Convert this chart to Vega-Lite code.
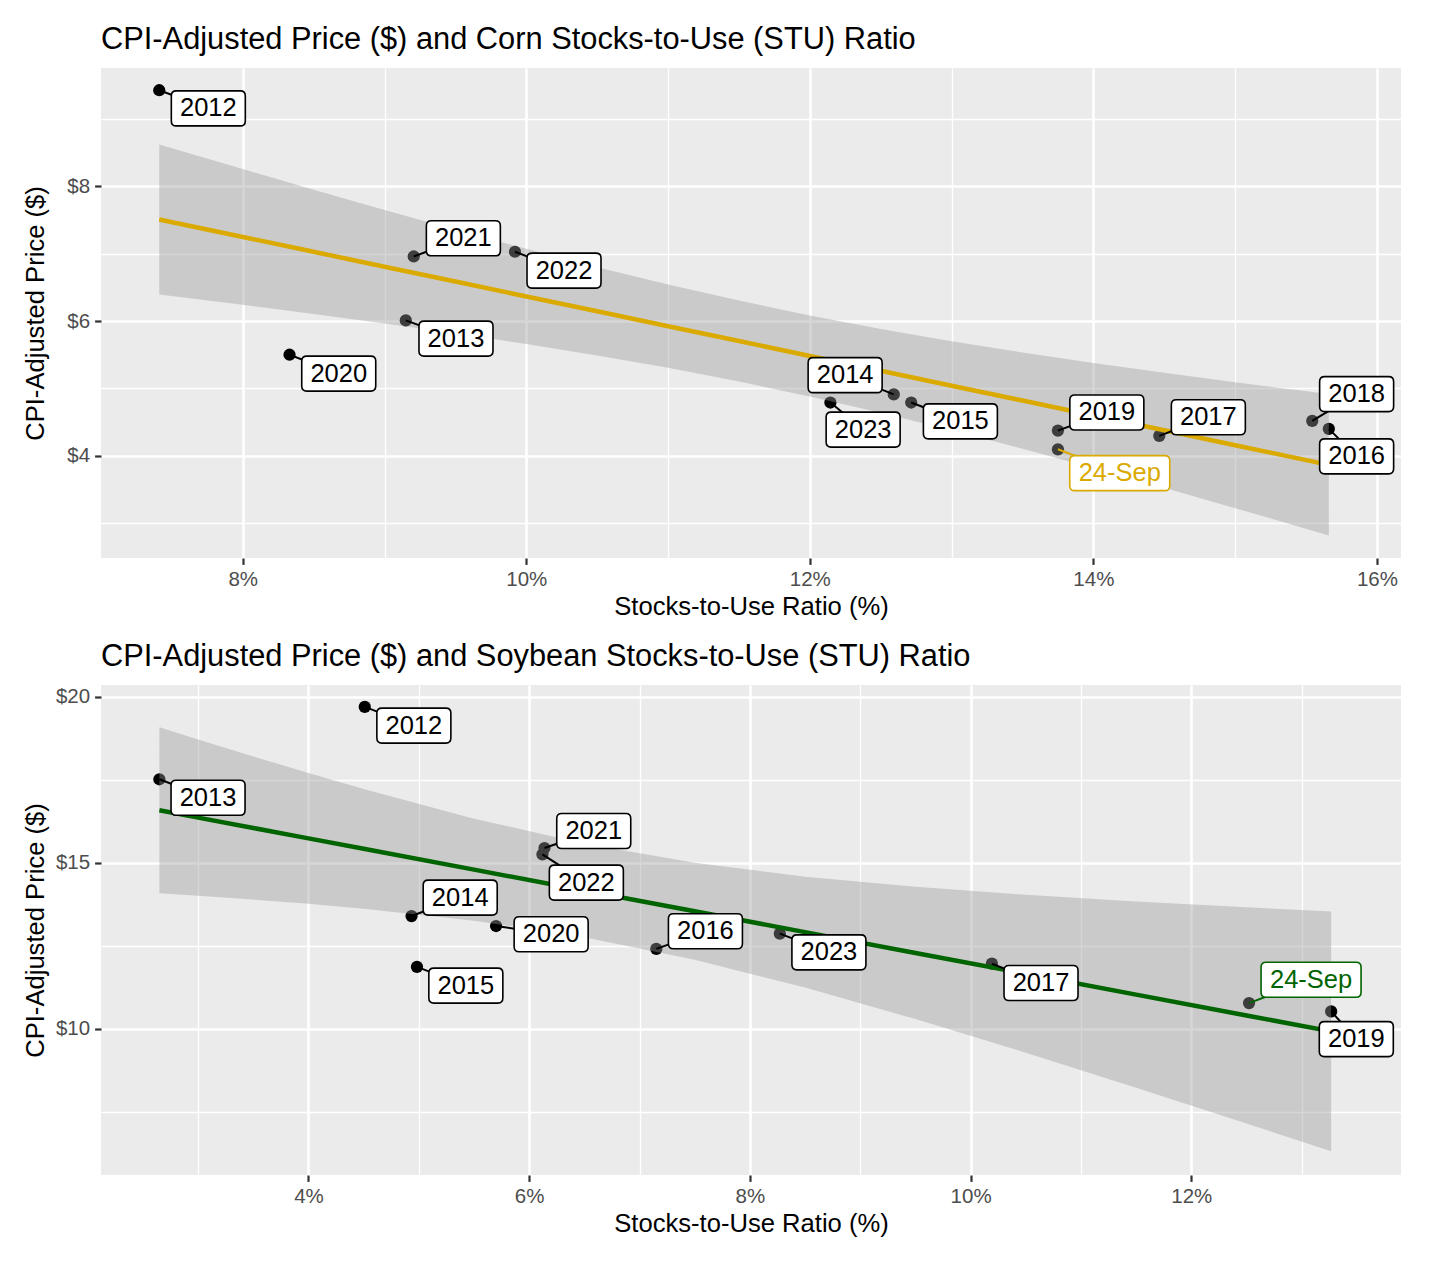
{
  "$schema": "https://vega.github.io/schema/vega-lite/v6.json",
  "background": "white",
  "padding": {"left": 23, "top": 24, "right": 10, "bottom": 10},
  "spacing": 20,
  "datasets": {
    "corn_pts": [
      {"label": "2012", "kind": "year", "x": 7.411, "y": 9.43, "lx": 7.757, "ly": 9.16},
      {"label": "2013", "kind": "year", "x": 9.15, "y": 6.01, "lx": 9.504, "ly": 5.74},
      {"label": "2014", "kind": "year", "x": 12.592, "y": 4.91, "lx": 12.249, "ly": 5.197},
      {"label": "2015", "kind": "year", "x": 12.715, "y": 4.79, "lx": 13.062, "ly": 4.51},
      {"label": "2016", "kind": "year", "x": 15.661, "y": 4.398, "lx": 15.857, "ly": 3.99},
      {"label": "2017", "kind": "year", "x": 14.465, "y": 4.294, "lx": 14.811, "ly": 4.572},
      {"label": "2018", "kind": "year", "x": 15.544, "y": 4.517, "lx": 15.857, "ly": 4.915},
      {"label": "2019", "kind": "year", "x": 13.75, "y": 4.373, "lx": 14.095, "ly": 4.642},
      {"label": "2020", "kind": "year", "x": 8.33, "y": 5.5, "lx": 8.677, "ly": 5.22},
      {"label": "2021", "kind": "year", "x": 9.206, "y": 6.96, "lx": 9.556, "ly": 7.23},
      {"label": "2022", "kind": "year", "x": 9.92, "y": 7.03, "lx": 10.266, "ly": 6.75},
      {"label": "2023", "kind": "year", "x": 12.145, "y": 4.79, "lx": 12.376, "ly": 4.388},
      {"label": "24-Sep", "kind": "corn", "x": 13.75, "y": 4.095, "lx": 14.186, "ly": 3.741}
    ],
    "corn_fit": [
      {"p": 7.411, "lo": 6.395, "fit": 7.51, "hi": 8.625},
      {"p": 8.0, "lo": 6.241, "fit": 7.25, "hi": 8.259},
      {"p": 8.5, "lo": 6.107, "fit": 7.029, "hi": 7.951},
      {"p": 9.0, "lo": 5.964, "fit": 6.808, "hi": 7.652},
      {"p": 9.5, "lo": 5.818, "fit": 6.587, "hi": 7.357},
      {"p": 10.0, "lo": 5.659, "fit": 6.366, "hi": 7.073},
      {"p": 10.5, "lo": 5.49, "fit": 6.145, "hi": 6.8},
      {"p": 11.0, "lo": 5.305, "fit": 5.924, "hi": 6.543},
      {"p": 11.5, "lo": 5.102, "fit": 5.703, "hi": 6.304},
      {"p": 12.0, "lo": 4.88, "fit": 5.482, "hi": 6.084},
      {"p": 12.5, "lo": 4.638, "fit": 5.261, "hi": 5.884},
      {"p": 13.0, "lo": 4.378, "fit": 5.04, "hi": 5.702},
      {"p": 13.5, "lo": 4.104, "fit": 4.819, "hi": 5.534},
      {"p": 14.0, "lo": 3.818, "fit": 4.598, "hi": 5.378},
      {"p": 14.5, "lo": 3.523, "fit": 4.377, "hi": 5.231},
      {"p": 15.0, "lo": 3.221, "fit": 4.156, "hi": 5.091},
      {"p": 15.661, "lo": 2.816, "fit": 3.864, "hi": 4.916}
    ],
    "soy_pts": [
      {"label": "2012", "kind": "year", "x": 4.51, "y": 19.7, "lx": 4.955, "ly": 19.137},
      {"label": "2013", "kind": "year", "x": 2.649, "y": 17.52, "lx": 3.09, "ly": 16.963},
      {"label": "2014", "kind": "year", "x": 4.934, "y": 13.4, "lx": 5.375, "ly": 13.956},
      {"label": "2015", "kind": "year", "x": 4.983, "y": 11.87, "lx": 5.426, "ly": 11.305},
      {"label": "2016", "kind": "year", "x": 7.152, "y": 12.41, "lx": 7.597, "ly": 12.942},
      {"label": "2017", "kind": "year", "x": 10.193, "y": 11.965, "lx": 10.638, "ly": 11.382},
      {"label": "2019", "kind": "year", "x": 13.267, "y": 10.528, "lx": 13.495, "ly": 9.693},
      {"label": "2020", "kind": "year", "x": 5.7, "y": 13.1, "lx": 6.199, "ly": 12.851},
      {"label": "2021", "kind": "year", "x": 6.139, "y": 15.45, "lx": 6.585, "ly": 15.964},
      {"label": "2022", "kind": "year", "x": 6.12, "y": 15.26, "lx": 6.518, "ly": 14.408},
      {"label": "2023", "kind": "year", "x": 8.271, "y": 12.87, "lx": 8.716, "ly": 12.307},
      {"label": "24-Sep", "kind": "soy", "x": 12.523, "y": 10.779, "lx": 13.085, "ly": 11.482}
    ],
    "soy_fit": [
      {"p": 2.649, "lo": 14.086, "fit": 16.586, "hi": 19.086},
      {"p": 3.0, "lo": 14.011, "fit": 16.366, "hi": 18.721},
      {"p": 3.5, "lo": 13.896, "fit": 16.052, "hi": 18.208},
      {"p": 4.0, "lo": 13.768, "fit": 15.739, "hi": 17.71},
      {"p": 4.5, "lo": 13.623, "fit": 15.425, "hi": 17.227},
      {"p": 5.5, "lo": 13.262, "fit": 14.798, "hi": 16.334},
      {"p": 6.5, "lo": 12.761, "fit": 14.171, "hi": 15.581},
      {"p": 7.5, "lo": 12.083, "fit": 13.543, "hi": 15.003},
      {"p": 8.5, "lo": 11.245, "fit": 12.916, "hi": 14.587},
      {"p": 9.5, "lo": 10.297, "fit": 12.289, "hi": 14.281},
      {"p": 10.5, "lo": 9.283, "fit": 11.662, "hi": 14.041},
      {"p": 11.5, "lo": 8.229, "fit": 11.034, "hi": 13.839},
      {"p": 12.5, "lo": 7.152, "fit": 10.407, "hi": 13.662},
      {"p": 13.267, "lo": 6.316, "fit": 9.926, "hi": 13.536}
    ]
  },
  "vconcat": [
    {
      "width": 1300,
      "height": 490,
      "title": {"text": "CPI-Adjusted Price ($) and Corn Stocks-to-Use (STU) Ratio"},
      "layer": [
        {
          "data": {"name": "corn_pts"},
          "mark": {"type": "circle", "size": 150, "color": "black", "opacity": 1},
          "encoding": {
            "x": {
              "field": "x", "type": "quantitative", "title": "Stocks-to-Use Ratio (%)",
              "scale": {"domain": [7.0, 16.17], "nice": false, "zero": false},
              "axis": {
                "values": [8, 9, 10, 11, 12, 13, 14, 15, 16],
                "labelExpr": "datum.value % 2 === 0 ? datum.value + '%' : ''",
                "gridWidth": {"condition": {"test": "datum.value % 2 === 0", "value": 2.6}, "value": 1.3},
                "tickOpacity": {"condition": {"test": "datum.value % 2 === 0", "value": 1}, "value": 0},
                "titlePadding": 5
              }
            },
            "y": {
              "field": "y", "type": "quantitative", "title": "CPI-Adjusted Price ($)",
              "scale": {"domain": [2.48, 9.76], "nice": false, "zero": false},
              "axis": {
                "values": [3, 4, 5, 6, 7, 8, 9],
                "labelExpr": "datum.value % 2 === 0 ? '$' + datum.value : ''",
                "gridWidth": {"condition": {"test": "datum.value % 2 === 0", "value": 2.6}, "value": 1.3},
                "tickOpacity": {"condition": {"test": "datum.value % 2 === 0", "value": 1}, "value": 0},
                "minExtent": 46, "maxExtent": 46, "titlePadding": 7
              }
            }
          }
        },
        {
          "data": {"name": "corn_fit"},
          "mark": {"type": "area", "color": "#999999", "opacity": 0.4},
          "encoding": {
            "x": {"field": "p", "type": "quantitative", "title": "Stocks-to-Use Ratio (%)", "scale": {"domain": [7.0, 16.17], "nice": false, "zero": false}},
            "y": {"field": "lo", "type": "quantitative", "title": "CPI-Adjusted Price ($)", "scale": {"domain": [2.48, 9.76], "nice": false, "zero": false}},
            "y2": {"field": "hi"}
          }
        },
        {
          "data": {"name": "corn_fit"},
          "mark": {"type": "line", "color": "#DAAA00", "strokeWidth": 4.5},
          "encoding": {
            "x": {"field": "p", "type": "quantitative", "title": "Stocks-to-Use Ratio (%)", "scale": {"domain": [7.0, 16.17], "nice": false, "zero": false}},
            "y": {"field": "fit", "type": "quantitative", "title": "CPI-Adjusted Price ($)", "scale": {"domain": [2.48, 9.76], "nice": false, "zero": false}}
          }
        },
        {
          "data": {"name": "corn_pts"},
          "mark": {"type": "rule", "strokeWidth": 2},
          "encoding": {
            "x": {"field": "x", "type": "quantitative", "title": "Stocks-to-Use Ratio (%)", "scale": {"domain": [7.0, 16.17], "nice": false, "zero": false}},
            "y": {"field": "y", "type": "quantitative", "title": "CPI-Adjusted Price ($)", "scale": {"domain": [2.48, 9.76], "nice": false, "zero": false}},
            "x2": {"field": "lx"},
            "y2": {"field": "ly"},
            "color": {"field": "kind", "type": "nominal", "legend": null, "scale": {"domain": ["year", "corn", "soy"], "range": ["black", "#DAAA00", "#006400"]}}
          }
        },
        {
          "data": {"name": "corn_pts"},
          "mark": {"type": "point", "filled": true, "fill": "white", "opacity": 1, "size": 10000, "strokeWidth": 1.6},
          "encoding": {
            "x": {"field": "lx", "type": "quantitative", "title": "Stocks-to-Use Ratio (%)", "scale": {"domain": [7.0, 16.17], "nice": false, "zero": false}},
            "y": {"field": "ly", "type": "quantitative", "title": "CPI-Adjusted Price ($)", "scale": {"domain": [2.48, 9.76], "nice": false, "zero": false}},
            "shape": {
              "field": "kind", "type": "nominal", "legend": null,
              "scale": {
                "domain": ["year", "corn", "soy"],
                "range": [
                  "M-0.64,-0.35L0.64,-0.35Q0.74,-0.35 0.74,-0.25L0.74,0.25Q0.74,0.35 0.64,0.35L-0.64,0.35Q-0.74,0.35 -0.74,0.25L-0.74,-0.25Q-0.74,-0.35 -0.64,-0.35Z",
                  "M-0.9,-0.35L0.9,-0.35Q1,-0.35 1,-0.25L1,0.25Q1,0.35 0.9,0.35L-0.9,0.35Q-1,0.35 -1,0.25L-1,-0.25Q-1,-0.35 -0.9,-0.35Z",
                  "M-0.9,-0.35L0.9,-0.35Q1,-0.35 1,-0.25L1,0.25Q1,0.35 0.9,0.35L-0.9,0.35Q-1,0.35 -1,0.25L-1,-0.25Q-1,-0.35 -0.9,-0.35Z"
                ]
              }
            },
            "stroke": {"field": "kind", "type": "nominal", "legend": null, "scale": {"domain": ["year", "corn", "soy"], "range": ["black", "#DAAA00", "#006400"]}}
          }
        },
        {
          "data": {"name": "corn_pts"},
          "mark": {"type": "text", "fontSize": 25.5, "align": "center", "baseline": "middle"},
          "encoding": {
            "x": {"field": "lx", "type": "quantitative", "title": "Stocks-to-Use Ratio (%)", "scale": {"domain": [7.0, 16.17], "nice": false, "zero": false}},
            "y": {"field": "ly", "type": "quantitative", "title": "CPI-Adjusted Price ($)", "scale": {"domain": [2.48, 9.76], "nice": false, "zero": false}},
            "text": {"field": "label", "type": "nominal"},
            "color": {"field": "kind", "type": "nominal", "legend": null, "scale": {"domain": ["year", "corn", "soy"], "range": ["black", "#DAAA00", "#006400"]}}
          }
        }
      ]
    },
    {
      "width": 1300,
      "height": 490,
      "title": {"text": "CPI-Adjusted Price ($) and Soybean Stocks-to-Use (STU) Ratio"},
      "layer": [
        {
          "data": {"name": "soy_pts"},
          "mark": {"type": "circle", "size": 150, "color": "black", "opacity": 1},
          "encoding": {
            "x": {
              "field": "x", "type": "quantitative", "title": "Stocks-to-Use Ratio (%)",
              "scale": {"domain": [2.12, 13.9], "nice": false, "zero": false},
              "axis": {
                "values": [3, 4, 5, 6, 7, 8, 9, 10, 11, 12, 13],
                "labelExpr": "datum.value % 2 === 0 ? datum.value + '%' : ''",
                "gridWidth": {"condition": {"test": "datum.value % 2 === 0", "value": 2.6}, "value": 1.3},
                "tickOpacity": {"condition": {"test": "datum.value % 2 === 0", "value": 1}, "value": 0},
                "titlePadding": 5
              }
            },
            "y": {
              "field": "y", "type": "quantitative", "title": "CPI-Adjusted Price ($)",
              "scale": {"domain": [5.6, 20.36], "nice": false, "zero": false},
              "axis": {
                "values": [7.5, 10, 12.5, 15, 17.5, 20],
                "labelExpr": "datum.value % 5 === 0 ? '$' + datum.value : ''",
                "gridWidth": {"condition": {"test": "datum.value % 5 === 0", "value": 2.6}, "value": 1.3},
                "tickOpacity": {"condition": {"test": "datum.value % 5 === 0", "value": 1}, "value": 0},
                "minExtent": 46, "maxExtent": 46, "titlePadding": 7
              }
            }
          }
        },
        {
          "data": {"name": "soy_fit"},
          "mark": {"type": "area", "color": "#999999", "opacity": 0.4},
          "encoding": {
            "x": {"field": "p", "type": "quantitative", "title": "Stocks-to-Use Ratio (%)", "scale": {"domain": [2.12, 13.9], "nice": false, "zero": false}},
            "y": {"field": "lo", "type": "quantitative", "title": "CPI-Adjusted Price ($)", "scale": {"domain": [5.6, 20.36], "nice": false, "zero": false}},
            "y2": {"field": "hi"}
          }
        },
        {
          "data": {"name": "soy_fit"},
          "mark": {"type": "line", "color": "#006400", "strokeWidth": 4.5},
          "encoding": {
            "x": {"field": "p", "type": "quantitative", "title": "Stocks-to-Use Ratio (%)", "scale": {"domain": [2.12, 13.9], "nice": false, "zero": false}},
            "y": {"field": "fit", "type": "quantitative", "title": "CPI-Adjusted Price ($)", "scale": {"domain": [5.6, 20.36], "nice": false, "zero": false}}
          }
        },
        {
          "data": {"name": "soy_pts"},
          "mark": {"type": "rule", "strokeWidth": 2},
          "encoding": {
            "x": {"field": "x", "type": "quantitative", "title": "Stocks-to-Use Ratio (%)", "scale": {"domain": [2.12, 13.9], "nice": false, "zero": false}},
            "y": {"field": "y", "type": "quantitative", "title": "CPI-Adjusted Price ($)", "scale": {"domain": [5.6, 20.36], "nice": false, "zero": false}},
            "x2": {"field": "lx"},
            "y2": {"field": "ly"},
            "color": {"field": "kind", "type": "nominal", "legend": null, "scale": {"domain": ["year", "corn", "soy"], "range": ["black", "#DAAA00", "#006400"]}}
          }
        },
        {
          "data": {"name": "soy_pts"},
          "mark": {"type": "point", "filled": true, "fill": "white", "opacity": 1, "size": 10000, "strokeWidth": 1.6},
          "encoding": {
            "x": {"field": "lx", "type": "quantitative", "title": "Stocks-to-Use Ratio (%)", "scale": {"domain": [2.12, 13.9], "nice": false, "zero": false}},
            "y": {"field": "ly", "type": "quantitative", "title": "CPI-Adjusted Price ($)", "scale": {"domain": [5.6, 20.36], "nice": false, "zero": false}},
            "shape": {
              "field": "kind", "type": "nominal", "legend": null,
              "scale": {
                "domain": ["year", "corn", "soy"],
                "range": [
                  "M-0.64,-0.35L0.64,-0.35Q0.74,-0.35 0.74,-0.25L0.74,0.25Q0.74,0.35 0.64,0.35L-0.64,0.35Q-0.74,0.35 -0.74,0.25L-0.74,-0.25Q-0.74,-0.35 -0.64,-0.35Z",
                  "M-0.9,-0.35L0.9,-0.35Q1,-0.35 1,-0.25L1,0.25Q1,0.35 0.9,0.35L-0.9,0.35Q-1,0.35 -1,0.25L-1,-0.25Q-1,-0.35 -0.9,-0.35Z",
                  "M-0.9,-0.35L0.9,-0.35Q1,-0.35 1,-0.25L1,0.25Q1,0.35 0.9,0.35L-0.9,0.35Q-1,0.35 -1,0.25L-1,-0.25Q-1,-0.35 -0.9,-0.35Z"
                ]
              }
            },
            "stroke": {"field": "kind", "type": "nominal", "legend": null, "scale": {"domain": ["year", "corn", "soy"], "range": ["black", "#DAAA00", "#006400"]}}
          }
        },
        {
          "data": {"name": "soy_pts"},
          "mark": {"type": "text", "fontSize": 25.5, "align": "center", "baseline": "middle"},
          "encoding": {
            "x": {"field": "lx", "type": "quantitative", "title": "Stocks-to-Use Ratio (%)", "scale": {"domain": [2.12, 13.9], "nice": false, "zero": false}},
            "y": {"field": "ly", "type": "quantitative", "title": "CPI-Adjusted Price ($)", "scale": {"domain": [5.6, 20.36], "nice": false, "zero": false}},
            "text": {"field": "label", "type": "nominal"},
            "color": {"field": "kind", "type": "nominal", "legend": null, "scale": {"domain": ["year", "corn", "soy"], "range": ["black", "#DAAA00", "#006400"]}}
          }
        }
      ]
    }
  ],
  "config": {
    "font": "Liberation Sans",
    "view": {"fill": "#EBEBEB", "stroke": null},
    "axis": {
      "domain": false,
      "gridColor": "white",
      "labelColor": "#4D4D4D",
      "labelFontSize": 20.5,
      "labelPadding": 5,
      "labelOverlap": false,
      "labelFlush": false,
      "tickColor": "#333333",
      "tickSize": 6.4,
      "tickWidth": 2.2,
      "titleColor": "black",
      "titleFontSize": 25.6,
      "titleFontWeight": "normal"
    },
    "title": {"fontSize": 30.8, "fontWeight": "normal", "anchor": "start", "frame": "group", "color": "black", "offset": 12}
  }
}
